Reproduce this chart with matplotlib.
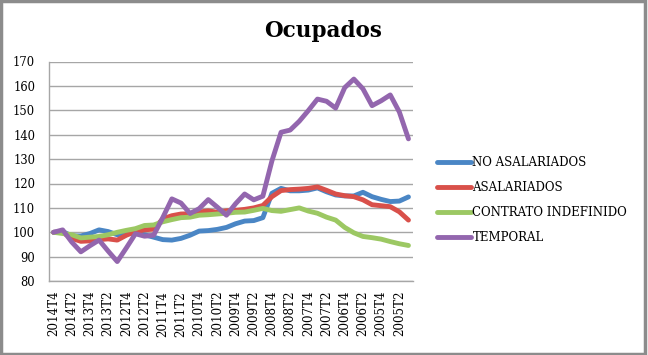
import matplotlib
matplotlib.use("Agg")
import matplotlib.pyplot as plt
from matplotlib.patches import Rectangle

quarters = ["2014T4", "2014T3", "2014T2", "2014T1", "2013T4", "2013T3", "2013T2", "2013T1",
            "2012T4", "2012T3", "2012T2", "2012T1", "2011T4", "2011T3", "2011T2", "2011T1",
            "2010T4", "2010T3", "2010T2", "2010T1", "2009T4", "2009T3", "2009T2", "2009T1",
            "2008T4", "2008T3", "2008T2", "2008T1", "2007T4", "2007T3", "2007T2", "2007T1",
            "2006T4", "2006T3", "2006T2", "2006T1", "2005T4", "2005T3", "2005T2", "2005T1"]

no_asalariados = [100, 100.3, 98.5, 98.5, 99.5, 101, 100.3, 99, 99.5, 99.6,
                  99, 98, 97, 96.8, 97.5, 98.8, 100.5, 100.7, 101.2, 102,
                  103.5, 104.6, 104.8, 106, 116, 118, 117, 117, 117.3, 118.2,
                  116.6, 115.3, 114.9, 114.9, 116.4, 114.6, 113.5, 112.6, 112.8, 114.5]

asalariados = [100, 100, 97.5, 96.3, 96.5, 97, 97.3, 96.8, 98.8, 100.3,
               101, 101.3, 105.5, 106.8, 107.5, 107.6, 108.3, 108.8, 108.2, 108.8,
               109, 109.4, 110, 111, 114.6, 117.1, 117.5, 117.7, 118, 118.6,
               117.2, 115.7, 115, 114.6, 113.3, 111.3, 110.9, 110.5, 108.4, 105]

contrato_indefinido = [100, 99.5, 99, 97.7, 98, 98.3, 99, 100, 100.8, 101.5,
                       102.8, 103, 104.3, 105.2, 106, 106.2, 107, 107.2, 107.5, 107.8,
                       108.2, 108.3, 109, 109.8, 108.9, 108.6, 109.3, 110, 108.7, 107.8,
                       106.2, 105, 102, 99.8, 98.3, 97.8, 97.2, 96.2, 95.3, 94.6]

temporal = [100, 101, 96, 92, 94.5, 96.8, 92.3, 88, 93.6, 99.4,
            98.4, 98.8, 106, 113.7, 112, 107.7, 109.7, 113.4, 110.3, 107,
            111.7, 115.7, 113.3, 114.8, 129.3, 141, 141.9, 145.5, 149.9, 154.6,
            153.7, 150.9, 159.3, 162.8, 158.8, 151.9, 153.9, 156.3, 149.3, 138.3]

series = [("NO ASALARIADOS", no_asalariados, "#4A86C5"),
          ("ASALARIADOS", asalariados, "#D9504A"),
          ("CONTRATO INDEFINIDO", contrato_indefinido, "#9CC863"),
          ("TEMPORAL", temporal, "#9366AE")]

W, H = 648, 355
fig = plt.figure(figsize=(W / 100, H / 100), dpi=100)
fig.patch.set_facecolor("white")
fig.patches.append(Rectangle((0.002, 0.003), 0.993, 0.993, transform=fig.transFigure,
                             fill=False, edgecolor="#8C8C8C", linewidth=2.5))

left, right = 49 / W, 413 / W
top, bottom = 1 - 61.5 / H, 1 - 281.1 / H
ax = fig.add_axes([left, bottom, right - left, top - bottom])

x = list(range(len(quarters)))
for name, vals, col in series:
    ax.plot(x, vals, color=col, linewidth=3.5, label=name, solid_capstyle="round",
            solid_joinstyle="round")

ax.set_xlim(-0.5, len(quarters) - 0.5)
ax.set_ylim(80, 170)
ax.set_yticks(range(80, 171, 10))
ax.yaxis.grid(True, color="#A6A6A6", linewidth=1)
ax.set_axisbelow(True)
for s in ["top", "right"]:
    ax.spines[s].set_visible(False)
for s in ["left", "bottom"]:
    ax.spines[s].set_color("#A6A6A6")
    ax.spines[s].set_linewidth(1)

ax.set_xticks(x[::2])
ax.set_xticklabels(quarters[::2], rotation=90, family="DejaVu Serif", fontsize=8.6)
ax.tick_params(axis="x", length=0, pad=7)
ax.tick_params(axis="y", length=0, pad=10, labelsize=8.3)
for lab in ax.get_yticklabels():
    lab.set_family("DejaVu Serif")

fig.text(0.498, 0.913, "Ocupados", ha="center", va="center", family="DejaVu Serif",
         fontweight="bold", fontsize=15.5)

ax.legend(loc="center left", bbox_to_anchor=(437 / W, 1 - 200 / H),
          bbox_transform=fig.transFigure, frameon=False, borderpad=0, borderaxespad=0,
          handlelength=2.9, handletextpad=0.1, labelspacing=1.0,
          prop={"family": "DejaVu Serif", "size": 8.5})

fig.savefig("out.png", dpi=100)
